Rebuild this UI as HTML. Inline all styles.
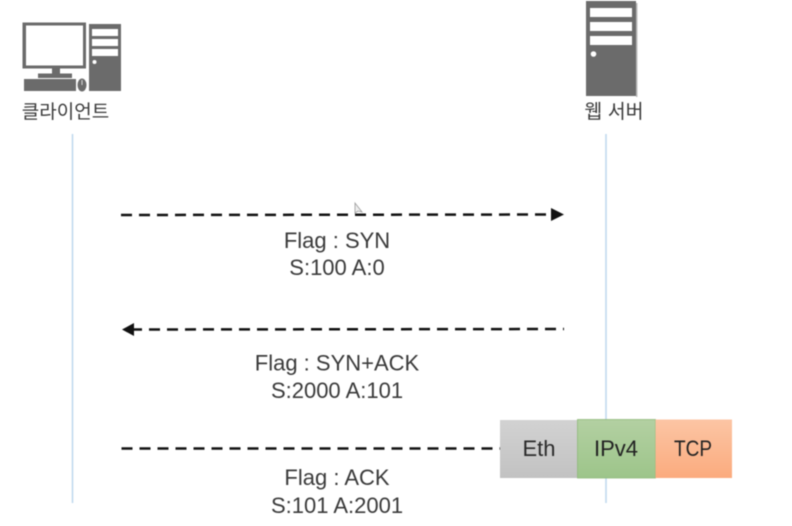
<!DOCTYPE html>
<html><head><meta charset="utf-8"><style>
html,body{margin:0;padding:0;background:#fff;width:792px;height:526px;overflow:hidden}
svg{display:block;filter:blur(.45px)}
text{font-family:"Liberation Sans","Noto Sans CJK KR",sans-serif;fill:#3a3a3a;text-anchor:middle;font-size:22px}
</style></head><body>
<svg width="792" height="526" viewBox="0 0 792 526" xmlns="http://www.w3.org/2000/svg">
<defs>
<linearGradient id="g" x1="0" y1="0" x2="0" y2="1"><stop offset="0" stop-color="#d2d2d2"/><stop offset="1" stop-color="#c2c2c2"/></linearGradient>
<linearGradient id="v" x1="0" y1="0" x2="0" y2="1"><stop offset="0" stop-color="#b3d0a2"/><stop offset="1" stop-color="#9dc58a"/></linearGradient>
<linearGradient id="o" x1="0" y1="0" x2="0" y2="1"><stop offset="0" stop-color="#fcc5a4"/><stop offset="1" stop-color="#fbab7e"/></linearGradient>
</defs>
<rect width="792" height="526" fill="#fff"/>
<!-- lifelines -->
<line x1="72.5" y1="134" x2="72.5" y2="503" stroke="#bdd7ee" stroke-width="1.5"/>
<line x1="606" y1="134" x2="606" y2="503" stroke="#bdd7ee" stroke-width="1.5"/>
<!-- client icon -->
<g fill="#6b6b6b">
<rect x="22.5" y="22.5" width="63.5" height="46"/>
<rect x="52" y="68" width="8" height="6"/>
<rect x="38" y="73.5" width="34" height="4.5"/>
<rect x="24" y="79" width="52" height="12"/>
<ellipse cx="82" cy="85" rx="4.5" ry="6.5"/>
<rect x="89" y="24" width="32" height="67"/>
</g>
<rect x="26" y="25.5" width="57" height="40" fill="#fff"/>
<rect x="92" y="29" width="26" height="7" fill="#fff"/>
<rect x="92" y="39" width="26" height="7" fill="#fff"/>
<rect x="92" y="49" width="26" height="7" fill="#fff"/>
<circle cx="94.5" cy="62" r="2" fill="#fff"/>
<line x1="82" y1="80" x2="82" y2="85" stroke="#ddd" stroke-width="1"/>
<!-- server icon -->
<rect x="586" y="1" width="50" height="95" fill="#6b6b6b"/>
<rect x="636" y="3" width="1.5" height="94" fill="#bbb"/>
<rect x="590" y="8" width="42" height="9" fill="#fff"/>
<rect x="590" y="22" width="42" height="9" fill="#fff"/>
<rect x="590" y="36" width="42" height="9" fill="#fff"/>
<circle cx="593.5" cy="54" r="2.8" fill="#fff"/>
<text x="65.5" y="118" style="font-size:19px">클라이언트</text>
<text x="614" y="118" style="font-size:19.5px">웹 서버</text>
<!-- arrows -->
<line x1="121" y1="215" x2="553" y2="214.5" stroke="#111" stroke-width="2.5" stroke-dasharray="11 7"/>
<path d="M551 208 L564 214.5 L551 221Z" fill="#111"/>
<line x1="564" y1="329" x2="132" y2="329.5" stroke="#111" stroke-width="2.5" stroke-dasharray="11 7" stroke-dashoffset="10"/>
<path d="M134 323 L122 329.5 L134 336Z" fill="#111"/>
<line x1="121.5" y1="448.5" x2="500" y2="448.5" stroke="#111" stroke-width="2.5" stroke-dasharray="11 7"/>
<!-- cursor -->
<path d="M355 203 L355 213 L358 211 L362 212Z" fill="#eee" stroke="#999" stroke-width=".8"/>
<!-- labels -->
<text x="337" y="248">Flag : SYN</text>
<text x="337" y="275">S:100 A:0</text>
<text x="337" y="370.5">Flag : SYN+ACK</text>
<text x="337" y="398">S:2000 A:101</text>
<text x="337" y="485">Flag : ACK</text>
<text x="337" y="513">S:101 A:2001</text>
<!-- packet -->
<rect x="500" y="420" width="78" height="58" fill="url(#g)"/>
<rect x="577.5" y="419.5" width="78" height="58.5" fill="url(#v)" stroke="#8fb97a" stroke-width=".8"/>
<rect x="655.5" y="419.5" width="76.5" height="58.5" fill="url(#o)"/>
<text x="539" y="456" style="fill:#2a2a2a">Eth</text>
<text x="616" y="456" style="fill:#222">IPv4</text>
<text x="693" y="456" style="fill:#222" textLength="38" lengthAdjust="spacingAndGlyphs">TCP</text>
</svg>
</body></html>
